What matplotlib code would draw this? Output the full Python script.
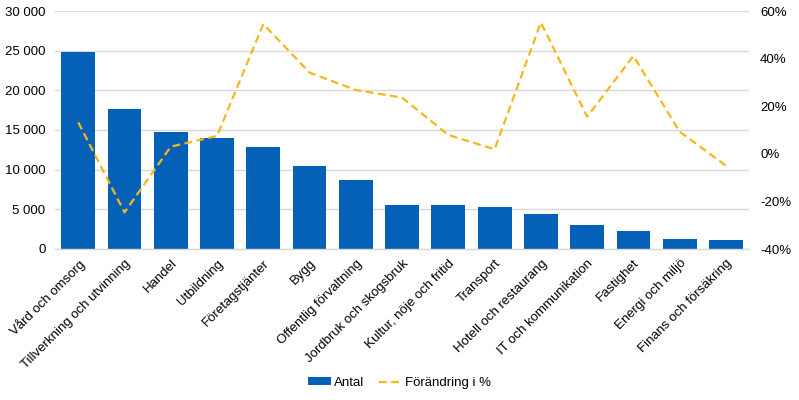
import numpy as np
import matplotlib.pyplot as plt
from matplotlib.ticker import FuncFormatter, MultipleLocator

plt.rcParams['font.family'] = ['Liberation Sans', 'DejaVu Sans']

# data
branscher = ['Vård och omsorg', 'Tillverkning och utvinning', 'Handel',
             'Utbildning', 'Företagstjänter', 'Bygg',
             'Offentlig förvaltning', 'Jordbruk och skogsbruk',
             'Kultur, nöje och fritid', 'Transport',
             'Hotell och restaurang', 'IT och kommunikation', 'Fastighet',
             'Energi och miljö', 'Finans och försäkring']
antal = [24800, 17650, 14700, 13950, 12800, 10450, 8750, 5600,
         5600, 5250, 4450, 3000, 2250, 1250, 1100]
forandring = [13.2, -24.6, 3.0, 7.5, 54.5, 34.1, 26.8, 23.6,
              7.9, 1.9, 55.2, 15.6, 41.1, 9.3, -5.0]

BLUE = '#0560b8'
GOLD = '#f4b81c'
GRID = '#d9d9d9'

fig, ax = plt.subplots(figsize=(7.99, 4.0), dpi=100)
fig.subplots_adjust(left=0.069, right=0.9375, top=0.9725, bottom=0.3775)

x = np.arange(len(branscher))
ax.bar(x, antal, width=0.73, color=BLUE, label='Antal', zorder=2)
ax.set_xlim(-0.5, len(branscher) - 0.5)
ax.set_ylim(0, 30000)
ax.yaxis.set_major_locator(MultipleLocator(5000))
ax.yaxis.set_major_formatter(
    FuncFormatter(lambda v, p: '{:,.0f}'.format(v).replace(',', ' ')))
ax.grid(axis='y', color=GRID, linewidth=1, zorder=0)
ax.set_axisbelow(True)
ax.set_xticks(x)
ax.set_xticklabels(branscher, rotation=45, ha='right',
                   rotation_mode='anchor', fontsize=9.5)
ax.tick_params(axis='both', length=0, labelsize=9.5, colors='black')
ax.tick_params(axis='x', pad=6)
ax.tick_params(axis='y', pad=7)
for s in ['top', 'right', 'left']:
    ax.spines[s].set_visible(False)
ax.spines['bottom'].set_color(GRID)
ax.spines['bottom'].set_linewidth(1)

ax2 = ax.twinx()
ax2.plot(x, np.array(forandring) / 100, color=GOLD, linestyle='--',
         linewidth=1.6, dashes=(3.5, 2), label='Förändring i %', zorder=3)
ax2.set_ylim(-0.4, 0.6)
ax2.yaxis.set_major_locator(MultipleLocator(0.2))
ax2.yaxis.set_major_formatter(FuncFormatter(lambda v, p: '{:.0f}%'.format(v * 100)))
ax2.tick_params(axis='y', length=0, labelsize=9.5, pad=8)
for s in ['top', 'right', 'left', 'bottom']:
    ax2.spines[s].set_visible(False)

h1, l1 = ax.get_legend_handles_labels()
h2, l2 = ax2.get_legend_handles_labels()
fig.legend(h1 + h2, l1 + l2, loc='center', bbox_to_anchor=(0.5, 0.043),
           ncol=2, frameon=False, fontsize=9.5, handlelength=1.75,
           handleheight=0.5, columnspacing=1.1, handletextpad=0.25)

plt.savefig('out.png', dpi=100)
